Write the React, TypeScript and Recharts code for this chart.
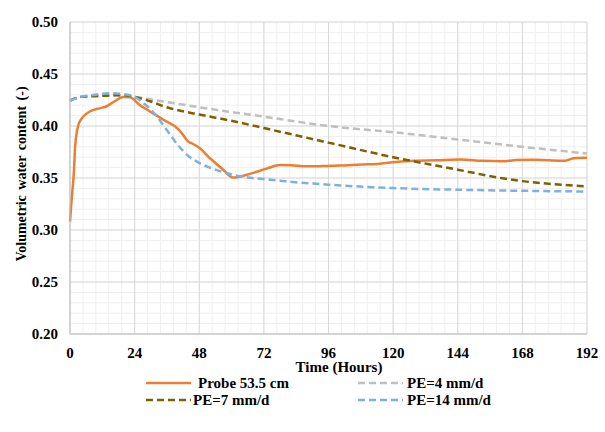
import { CartesianGrid, Line, LineChart, XAxis, YAxis } from "recharts";

// Probe 53.5 cm (measured)
const probeHours = [0, 0.6, 1.5, 1.9, 3.1, 4.3, 7.4, 11, 13.6, 16.7, 19.8, 22.3, 26, 29.7, 34.7, 40.2, 42.1, 43.9, 45.2, 48, 52, 56.9, 60.5, 62.5, 66.8, 73, 78, 82, 88, 94, 100, 108, 115, 121, 128, 136, 145, 153, 160, 166, 172, 178, 184, 187, 189, 192];
const probeValues = [0.308, 0.329, 0.358, 0.38, 0.401, 0.407, 0.414, 0.417, 0.419, 0.424, 0.428, 0.4276, 0.42, 0.414, 0.406, 0.397, 0.391, 0.385, 0.3834, 0.379, 0.369, 0.358, 0.3505, 0.351, 0.354, 0.359, 0.3625, 0.3622, 0.3612, 0.3615, 0.3619, 0.363, 0.3638, 0.3655, 0.3667, 0.367, 0.3677, 0.3665, 0.3661, 0.3672, 0.3675, 0.367, 0.3667, 0.369, 0.3693, 0.3695];

// PE = 4 mm/d
const pe4Hours = [0, 4, 8, 12, 16, 20, 24, 36, 48, 72, 96, 120, 144, 168, 192];
const pe4Values = [0.4245, 0.428, 0.4285, 0.429, 0.4295, 0.4295, 0.428, 0.423, 0.418, 0.409, 0.4, 0.394, 0.387, 0.38, 0.3735];

// PE = 7 mm/d
const pe7Hours = [0, 4, 8, 12, 16, 20, 24, 30, 36, 48, 60, 72, 96, 120, 144, 160, 168, 180, 192];
const pe7Values = [0.4245, 0.428, 0.4285, 0.429, 0.4295, 0.4295, 0.428, 0.4235, 0.418, 0.411, 0.405, 0.398, 0.384, 0.37, 0.358, 0.35, 0.347, 0.344, 0.342];

// PE = 14 mm/d
const pe14Hours = [0, 4, 8, 12, 16, 20, 24, 28, 32, 36, 40, 44, 48, 54, 60, 66, 72, 80, 96, 120, 144, 168, 192];
const pe14Values = [0.4245, 0.428, 0.4295, 0.431, 0.4315, 0.4305, 0.428, 0.4205, 0.41, 0.396, 0.382, 0.371, 0.3645, 0.358, 0.3535, 0.3505, 0.349, 0.3468, 0.3436, 0.3403, 0.3387, 0.3377, 0.337];

const xTicks = [0, 24, 48, 72, 96, 120, 144, 168, 192];
const yTicks = [0.2, 0.25, 0.3, 0.35, 0.4, 0.45, 0.5];

const seriesNames = ["Probe 53.5 cm", "PE=4 mm/d", "PE=7 mm/d", "PE=14 mm/d"];

const toPoints = (hours: number[], values: number[]) =>
  hours.map((h, i) => ({ h, v: values[i] }));

const series = [
  { name: seriesNames[0], data: toPoints(probeHours, probeValues), color: "#ED7D31", dash: undefined },
  { name: seriesNames[1], data: toPoints(pe4Hours, pe4Values), color: "#BFBFBF", dash: "7 4" },
  { name: seriesNames[2], data: toPoints(pe7Hours, pe7Values), color: "#7F6000", dash: "7 4" },
  { name: seriesNames[3], data: toPoints(pe14Hours, pe14Values), color: "#7FB0E0", dash: "7 4" },
];

// minor gridlines: 40 columns (4.8 h) and 30 rows (0.01)
const MINOR_COLS = 40;
const MINOR_ROWS = 30;

const font = "'Liberation Serif', 'Times New Roman', serif";
const tickStyle = { fill: "#000", fontSize: 15, fontWeight: 700, fontFamily: font };

// legend boxes: [lineX, textX, y]
const legendPos = [
  [146, 198, 383],
  [358, 407, 383],
  [146, 193, 400],
  [358, 407, 400],
];

const minorVertical = ({ offset }: any) =>
  Array.from({ length: MINOR_COLS + 1 }, (_, i) => offset.left + (offset.width * i) / MINOR_COLS);
const minorHorizontal = ({ offset }: any) =>
  Array.from({ length: MINOR_ROWS + 1 }, (_, i) => offset.top + (offset.height * i) / MINOR_ROWS);

export default function App() {
  return (
    <div style={{ position: "absolute", left: 0, top: 0, width: 605, height: 432, background: "#fff", fontFamily: font, fontWeight: 700 }}>
      <LineChart width={605} height={432} margin={{ top: 22, right: 18, left: 0, bottom: 68 }}>
        <CartesianGrid
          stroke="#EFEFEF"
          strokeWidth={1}
          verticalCoordinatesGenerator={minorVertical}
          horizontalCoordinatesGenerator={minorHorizontal}
        />
        <CartesianGrid stroke="#D9D9D9" strokeWidth={1} />
        <XAxis
          type="number"
          dataKey="h"
          domain={[0, 192]}
          ticks={xTicks}
          allowDuplicatedCategory={false}
          tick={tickStyle}
          tickSize={0}
          tickMargin={13}
          height={30}
          stroke="#BFBFBF"
        />
        <YAxis
          type="number"
          domain={[0.2, 0.5]}
          ticks={yTicks}
          tickFormatter={(v: number) => v.toFixed(2)}
          tick={tickStyle}
          tickSize={0}
          tickMargin={12}
          width={70}
          stroke="#BFBFBF"
        />
        {series.map((s) => (
          <Line
            key={s.name}
            data={s.data}
            dataKey="v"
            name={s.name}
            type="monotone"
            stroke={s.color}
            strokeWidth={2.5}
            strokeDasharray={s.dash}
            dot={false}
            activeDot={false}
            isAnimationActive={false}
          />
        ))}
      </LineChart>
      <svg width={605} height={432} style={{ position: "absolute", left: 0, top: 0, pointerEvents: "none" }}>
        <text x={339} y={372} textAnchor="middle" style={tickStyle}>
          Time (Hours)
        </text>
        <text
          x={0}
          y={0}
          transform="translate(26 174) rotate(-90)"
          textAnchor="middle"
          style={{ ...tickStyle, fontSize: 14, wordSpacing: 2 }}
        >
          Volumetric water content (-)
        </text>
        {series.map((s, i) => {
          const [lx, tx, y] = legendPos[i];
          return (
            <g key={s.name}>
              <line x1={lx} x2={lx + 45} y1={y} y2={y} stroke={s.color} strokeWidth={2.5} strokeDasharray={s.dash} />
              <text x={tx} y={y + 5} style={tickStyle}>
                {s.name}
              </text>
            </g>
          );
        })}
      </svg>
    </div>
  );
}
